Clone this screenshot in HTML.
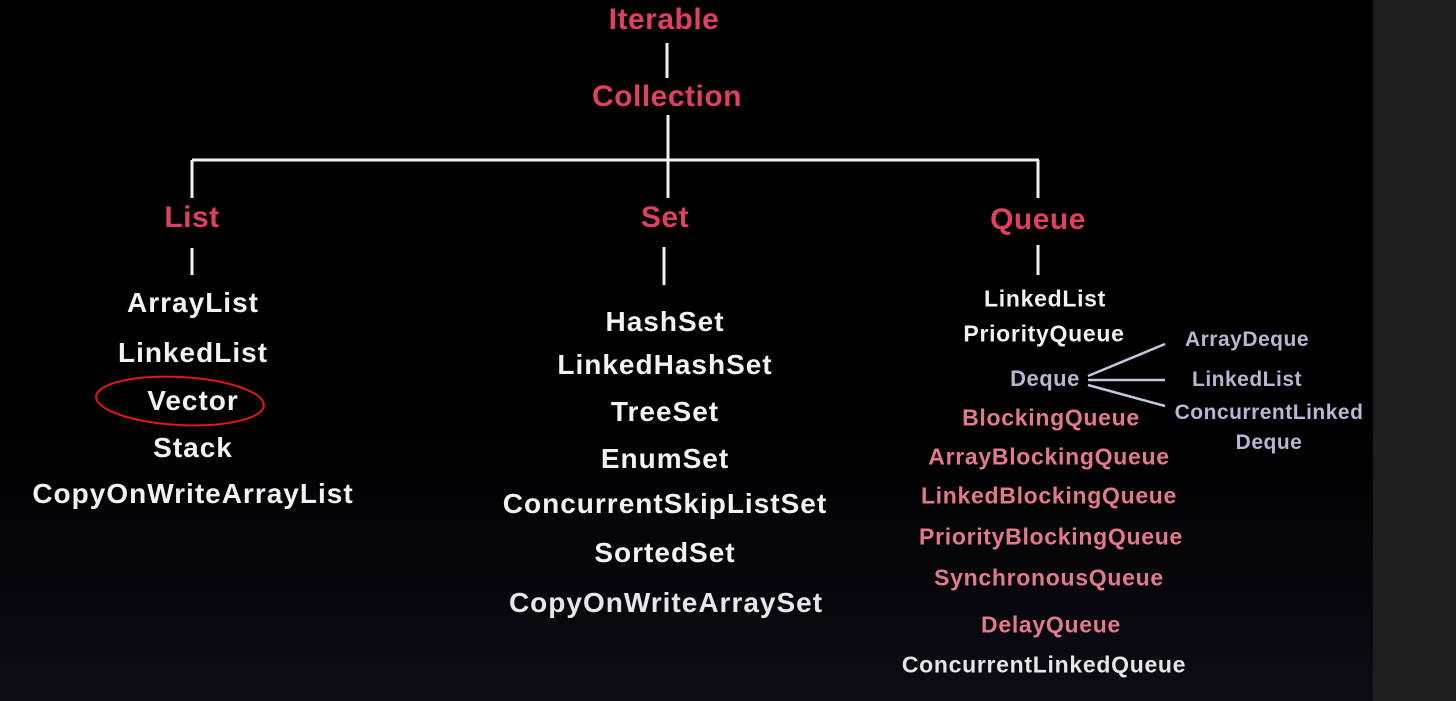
<!DOCTYPE html>
<html><head><style>
html,body{margin:0;padding:0}
body{width:1456px;height:701px;position:relative;overflow:hidden;background:linear-gradient(#000 0%,#000 60%,#0d0b14 100%);font-family:"Liberation Sans",sans-serif;font-weight:bold}
.t{position:absolute;transform:translate(-50%,-50%);white-space:nowrap}
.h{color:#e0405f;font-size:30px;letter-spacing:0.5px}
.w{color:#f2f2f2;font-size:28px;letter-spacing:1px}
.q{color:#f2f2f2;font-size:23px;letter-spacing:0.7px}
.p{color:#e27a8c;font-size:23px;letter-spacing:0.7px}
.l{color:#b9b5d2;font-size:21px;letter-spacing:0.5px}
#strip{position:absolute;left:1373px;top:0;width:83px;height:701px;background:#1e1e1e}
</style></head><body>
<div id="strip"></div>
<svg width="1456" height="701" style="position:absolute;left:0;top:0">
<g stroke="#f0f0f0" stroke-width="3" fill="none">
<line x1="667" y1="43" x2="667" y2="78"/>
<line x1="668" y1="115" x2="668" y2="160"/>
<line x1="192" y1="160" x2="1039" y2="160"/>
<line x1="192" y1="160" x2="192" y2="198"/>
<line x1="668" y1="160" x2="668" y2="198"/>
<line x1="1038" y1="160" x2="1038" y2="198"/>
<line x1="192" y1="248" x2="192" y2="275"/>
<line x1="664" y1="247" x2="664" y2="285"/>
<line x1="1038" y1="245" x2="1038" y2="275"/>
</g>
<g stroke="#c9c5dd" stroke-width="2.5">
<line x1="1088" y1="376" x2="1165" y2="344"/>
<line x1="1088" y1="380" x2="1165" y2="380"/>
<line x1="1088" y1="385" x2="1165" y2="406"/>
</g>
<ellipse cx="180" cy="401" rx="84" ry="24" stroke="#e01818" stroke-width="2" fill="none" transform="rotate(3 180 401)"/>
</svg>
<div class="t h" style="left:664px;top:20px">Iterable</div>
<div class="t h" style="left:667px;top:97px">Collection</div>
<div class="t h" style="left:192px;top:218px">List</div>
<div class="t h" style="left:665px;top:218px">Set</div>
<div class="t h" style="left:1038px;top:220px">Queue</div>

<div class="t w" style="left:193px;top:303px">ArrayList</div>
<div class="t w" style="left:193px;top:353px">LinkedList</div>
<div class="t w" style="left:193px;top:401px">Vector</div>
<div class="t w" style="left:193px;top:448px">Stack</div>
<div class="t w" style="left:193px;top:494px">CopyOnWriteArrayList</div>

<div class="t w" style="left:665px;top:322px">HashSet</div>
<div class="t w" style="left:665px;top:365px">LinkedHashSet</div>
<div class="t w" style="left:665px;top:412px">TreeSet</div>
<div class="t w" style="left:665px;top:459px">EnumSet</div>
<div class="t w" style="left:665px;top:504px">ConcurrentSkipListSet</div>
<div class="t w" style="left:665px;top:553px">SortedSet</div>
<div class="t w" style="left:666px;top:603px;color:#e6e6e6">CopyOnWriteArraySet</div>

<div class="t q" style="left:1045px;top:299px">LinkedList</div>
<div class="t q" style="left:1044px;top:334px">PriorityQueue</div>
<div class="t l" style="left:1045px;top:379px;font-size:22px">Deque</div>
<div class="t p" style="left:1051px;top:418px">BlockingQueue</div>
<div class="t p" style="left:1049px;top:457px">ArrayBlockingQueue</div>
<div class="t p" style="left:1049px;top:496px">LinkedBlockingQueue</div>
<div class="t p" style="left:1051px;top:537px">PriorityBlockingQueue</div>
<div class="t p" style="left:1049px;top:578px">SynchronousQueue</div>
<div class="t p" style="left:1051px;top:625px">DelayQueue</div>
<div class="t q" style="left:1044px;top:665px;color:#e6e6e6">ConcurrentLinkedQueue</div>

<div class="t l" style="left:1247px;top:340px">ArrayDeque</div>
<div class="t l" style="left:1247px;top:380px">LinkedList</div>
<div class="t l" style="left:1269px;top:413px">ConcurrentLinked</div>
<div class="t l" style="left:1269px;top:443px">Deque</div>
</body></html>
